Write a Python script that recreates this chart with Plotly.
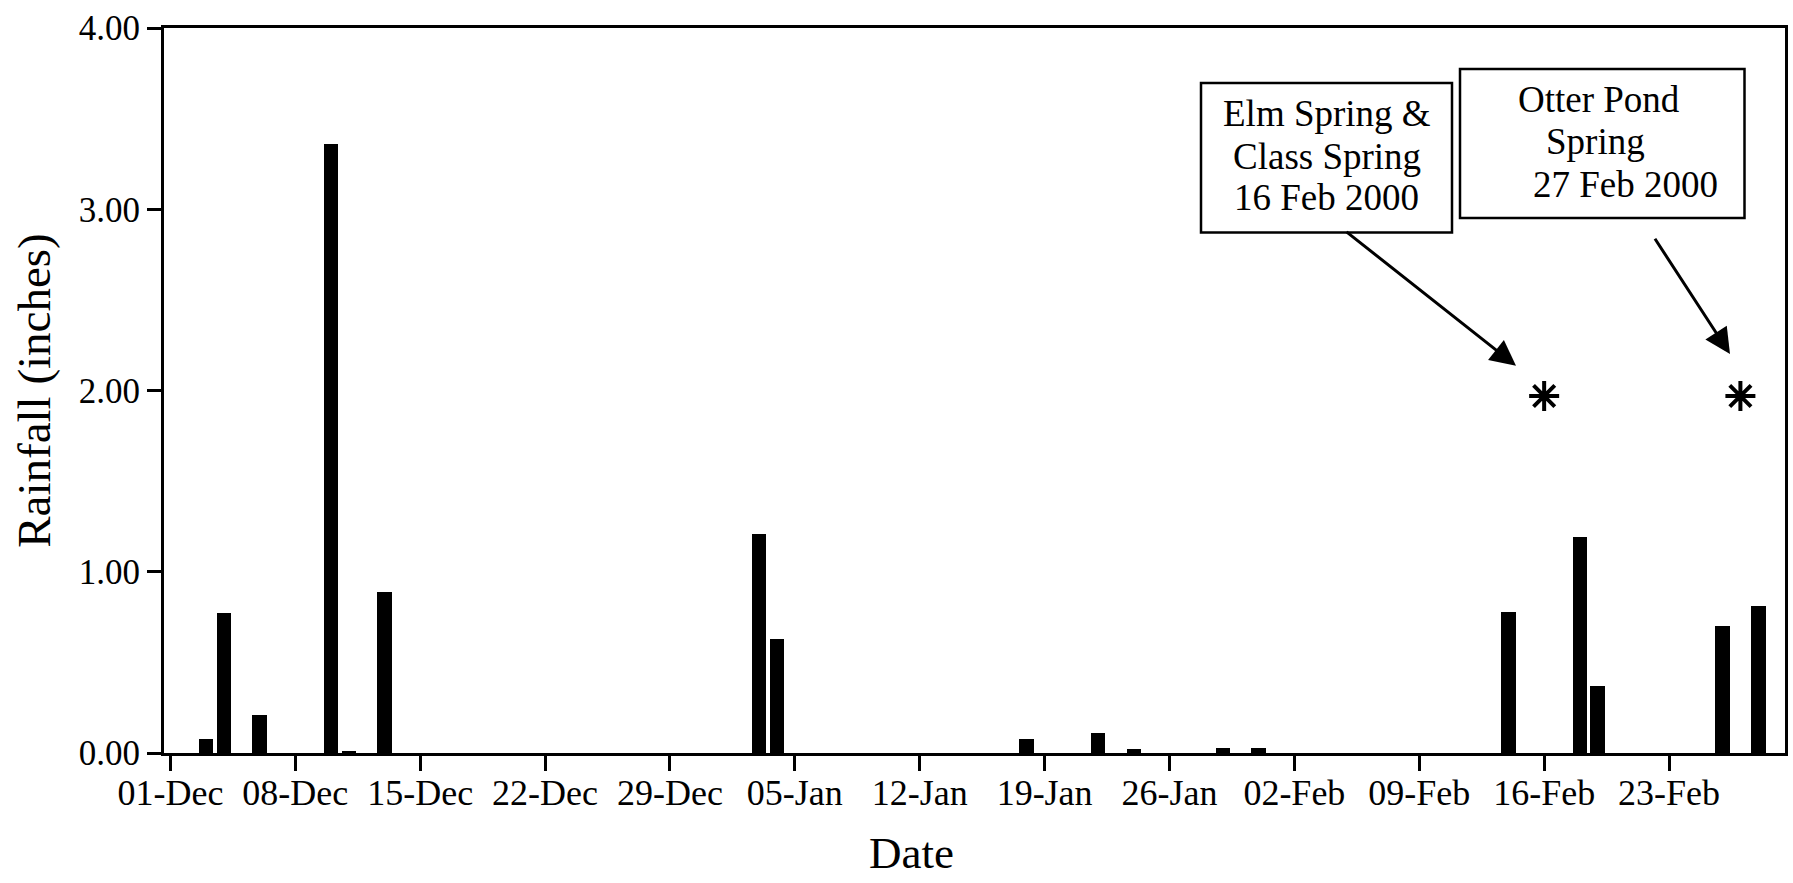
import plotly.graph_objects as go
import pandas as pd

# Daily rainfall, Dec 1999 - Feb 2000 (inches)
rain_dates = ["1999-12-03", "1999-12-04", "1999-12-06", "1999-12-10", "1999-12-11",
              "1999-12-13", "2000-01-03", "2000-01-04", "2000-01-18", "2000-01-22",
              "2000-01-24", "2000-01-29", "2000-01-31", "2000-02-14", "2000-02-18",
              "2000-02-19", "2000-02-26", "2000-02-28"]
rain_inches = [0.08, 0.77, 0.21, 3.36, 0.01,
               0.89, 1.21, 0.63, 0.08, 0.11,
               0.02, 0.03, 0.03, 0.78, 1.19,
               0.37, 0.70, 0.81]

# Spring sampling dates, flagged with an asterisk
sample_dates = ["2000-02-16", "2000-02-27"]
sample_marker_level = [1.97, 1.97]

# Weekly tick positions and their labels
tick_dates = ["1999-12-01", "1999-12-08", "1999-12-15", "1999-12-22", "1999-12-29",
              "2000-01-05", "2000-01-12", "2000-01-19", "2000-01-26", "2000-02-02",
              "2000-02-09", "2000-02-16", "2000-02-23"]
tick_labels = ["01-Dec", "08-Dec", "15-Dec", "22-Dec", "29-Dec", "05-Jan", "12-Jan",
               "19-Jan", "26-Jan", "02-Feb", "09-Feb", "16-Feb", "23-Feb"]

y_ticks = [0, 1, 2, 3, 4]

FONT = "Liberation Serif, Times New Roman, serif"
W, H = 1793, 883
ML, MR, MT, MB = 164, 8, 28, 130
PW, PH = W - ML - MR, H - MT - MB
DAY_MS = 86400000


def px_x(p):
    return (p - ML) / PW


def px_y(p):
    return (H - MB - p) / PH


x_start = pd.Timestamp("1999-12-01") - pd.Timedelta(days=0.36)
x_end = pd.Timestamp("1999-12-01") + pd.Timedelta(days=90.5)

fig = go.Figure()

fig.add_trace(go.Bar(
    x=rain_dates, y=rain_inches,
    width=[0.82 * DAY_MS] * len(rain_dates),
    marker=dict(color="black", line=dict(width=0)),
    showlegend=False,
))

fig.add_trace(go.Scatter(
    x=sample_dates, y=sample_marker_level, mode="markers",
    marker=dict(symbol="asterisk-open", size=25, color="black",
                line=dict(color="black", width=4)),
    showlegend=False,
))

shapes = [
    dict(type="rect", xref="paper", yref="paper",
         x0=px_x(1201), x1=px_x(1452), y0=px_y(232.5), y1=px_y(83),
         line=dict(color="black", width=2.5), fillcolor="white", layer="above"),
    dict(type="rect", xref="paper", yref="paper",
         x0=px_x(1460), x1=px_x(1744.5), y0=px_y(218), y1=px_y(69),
         line=dict(color="black", width=2.5), fillcolor="white", layer="above"),
]

box_font = dict(family=FONT, size=37, color="black")
annotations = []
# first callout, centred lines
for txt, yc in [("Elm Spring &", 114), ("Class Spring", 157), ("16 Feb 2000", 197.5)]:
    annotations.append(dict(text=txt, xref="paper", yref="paper",
                            x=px_x(1326.5), y=px_y(yc), xanchor="center",
                            yanchor="middle", showarrow=False, font=box_font))
# second callout, lines set at their own starts
for txt, xs, yc in [("Otter Pond", 1516, 99), ("Spring", 1543.5, 141), ("27 Feb 2000", 1530.5, 185)]:
    annotations.append(dict(text=txt, xref="paper", yref="paper",
                            x=px_x(xs), y=px_y(yc), xanchor="left",
                            yanchor="middle", showarrow=False, font=box_font))
# arrows from callouts toward the sampling markers
for tip, tail in [((1516, 365.7), (1345, 230.7)), ((1730, 354), (1654, 237.3))]:
    annotations.append(dict(text="", xref="paper", yref="paper",
                            x=px_x(tip[0]), y=px_y(tip[1]),
                            ax=tail[0] - tip[0], ay=tail[1] - tip[1],
                            showarrow=True, arrowhead=2, arrowsize=1.7,
                            arrowwidth=3, arrowcolor="black"))
# x-axis title
annotations.append(dict(text="Date", xref="paper", yref="paper",
                        x=px_x(911), y=px_y(853), xanchor="center", yanchor="middle",
                        showarrow=False, font=dict(family=FONT, size=45, color="black")))

fig.update_layout(
    width=W, height=H,
    margin=dict(l=ML, r=MR, t=MT, b=MB, autoexpand=False),
    paper_bgcolor="white", plot_bgcolor="white",
    font=dict(family=FONT, color="black"),
    bargap=0,
    shapes=shapes,
    annotations=annotations,
    xaxis=dict(
        type="date", range=[x_start, x_end],
        tickvals=tick_dates, ticktext=tick_labels,
        ticks="outside", ticklen=15, tickwidth=3, tickcolor="black",
        showline=True, linewidth=3, linecolor="black", mirror=True,
        showgrid=False, zeroline=False,
        tickfont=dict(family=FONT, size=36, color="black"),
        ticklabelstandoff=-9,
        automargin=False,
    ),
    yaxis=dict(
        range=[0, 4], tickvals=y_ticks, tickformat=".2f",
        ticks="outside", ticklen=14, tickwidth=3, tickcolor="black",
        showline=True, linewidth=3, linecolor="black", mirror=True,
        showgrid=False, zeroline=False,
        tickfont=dict(family=FONT, size=35, color="black"),
        title=dict(text="Rainfall (inches)", standoff=14,
                   font=dict(family=FONT, size=47, color="black")),
        automargin=False,
    ),
)

fig.write_html("out.html")
